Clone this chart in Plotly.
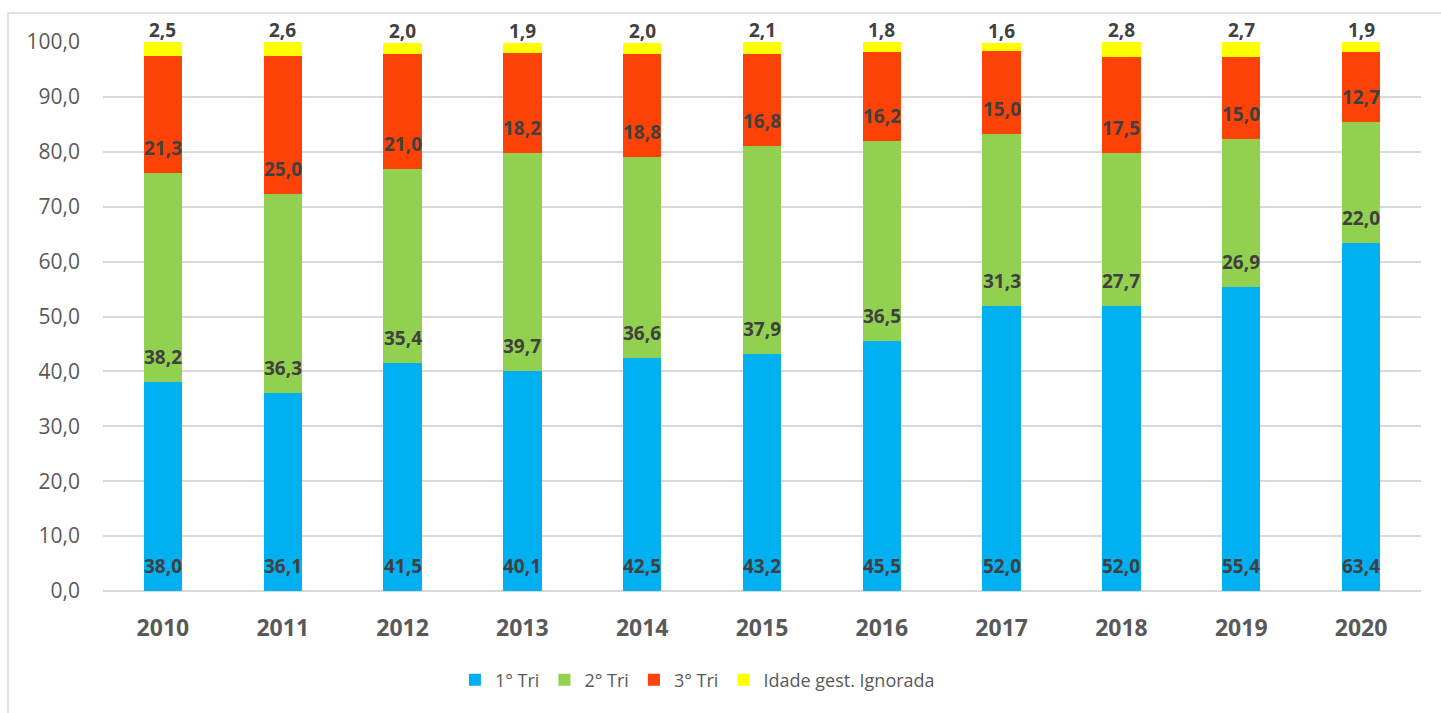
import plotly.graph_objects as go

# Proportion of pregnant women by trimester at first visit (%)
anos = ["2010", "2011", "2012", "2013", "2014", "2015", "2016", "2017", "2018", "2019", "2020"]
tri1 = [38.0, 36.1, 41.5, 40.1, 42.5, 43.2, 45.5, 52.0, 52.0, 55.4, 63.4]
tri2 = [38.2, 36.3, 35.4, 39.7, 36.6, 37.9, 36.5, 31.3, 27.7, 26.9, 22.0]
tri3 = [21.3, 25.0, 21.0, 18.2, 18.8, 16.8, 16.2, 15.0, 17.5, 15.0, 12.7]
ignorada = [2.5, 2.6, 2.0, 1.9, 2.0, 2.1, 1.8, 1.6, 2.8, 2.7, 1.9]
y_ticks = [0, 10, 20, 30, 40, 50, 60, 70, 80, 90, 100]

series = [
    ("1° Tri", tri1, "#00B0F0"),
    ("2° Tri", tri2, "#92D050"),
    ("3° Tri", tri3, "#FC4206"),
    ("Idade gest. Ignorada", ignorada, "#FFFF00"),
]

FONT = "Open Sans"
LABEL_COLOR = "#404040"
TEXT_GRAY = "#595959"

fig = go.Figure()
for name, vals, color in series:
    fig.add_trace(go.Bar(
        x=anos, y=vals, name=name,
        marker=dict(color=color, line=dict(width=0)),
        width=0.32,
        hoverinfo="skip",
    ))

def fmt(v):
    return f"{v:.1f}".replace(".", ",")

annotations = []
base = [0.0] * len(anos)
for idx, (name, vals, color) in enumerate(series):
    for i, v in enumerate(vals):
        if idx < 3:
            # value label sitting inside the base of each segment
            annotations.append(dict(
                x=i, y=round(base[i], 1), xref="x", yref="y",
                text=f"<b>{fmt(v)}</b>", showarrow=False,
                yanchor="bottom", yshift=10,
                font=dict(family=FONT, size=19, color=LABEL_COLOR),
            ))
        else:
            # unknown-age label above the top of the stack (kept inside the axis range)
            top = min(round(base[i] + v, 1), 100.0)
            annotations.append(dict(
                x=i, y=top, xref="x", yref="y",
                text=f"<b>{fmt(v)}</b>", showarrow=False,
                yanchor="bottom", yshift=-3,
                font=dict(family=FONT, size=19, color=LABEL_COLOR),
            ))
        base[i] += v

fig.update_layout(
    barmode="stack",
    width=1441, height=713,
    margin=dict(l=103, r=20, t=42, b=122),
    paper_bgcolor="white",
    plot_bgcolor="white",
    separators=",.",
    font=dict(family=FONT, color=TEXT_GRAY),
    annotations=annotations,
    showlegend=True,
    legend=dict(
        orientation="h", x=0.451, xanchor="center", y=-0.162, yanchor="middle",
        font=dict(family=FONT, size=18, color=TEXT_GRAY),
        itemwidth=30, tracegroupgap=0, traceorder="normal",
    ),
    xaxis=dict(
        type="category",
        range=[-0.5, len(anos) - 0.5],
        tickfont=dict(family=FONT, size=23, color=TEXT_GRAY),
        tickprefix="<b>", ticksuffix="</b>",
        showline=False, showgrid=False, ticks="",
        ticklabelstandoff=21,
    ),
    yaxis=dict(
        range=[0, 100],
        tickvals=y_ticks,
        tickformat=".1f",
        tickfont=dict(family=FONT, size=21, color=TEXT_GRAY),
        showgrid=True, gridcolor="#D9D9D9", gridwidth=1.5,
        zeroline=True, zerolinecolor="#D9D9D9", zerolinewidth=1.5,
        showline=False, ticks="",
        ticklabelstandoff=22,
    ),
    shapes=[dict(
        type="rect", xref="paper", yref="paper",
        x0=-0.0721, x1=1.03, y0=-0.25, y1=1.0528,
        line=dict(color="#D9D9D9", width=1.5),
        fillcolor="rgba(0,0,0,0)", layer="below",
    )],
)

fig.write_html("out.html")
